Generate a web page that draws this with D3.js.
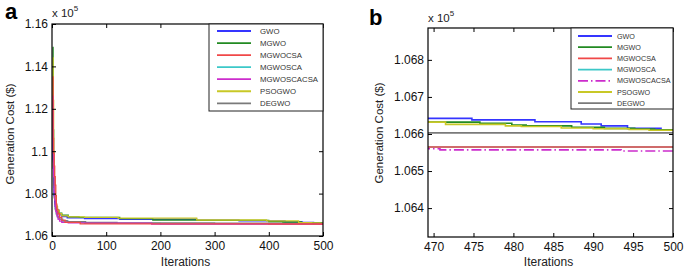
<!DOCTYPE html>
<html>
<head>
<meta charset="utf-8">
<script src="https://cdn.jsdelivr.net/npm/d3@7"></script>
<style>
  body { margin: 0; background: #fff; }
  svg { display: block; font-family: "Liberation Sans", Arial, sans-serif; }
</style>
</head>
<body>
<svg id="chart" width="685" height="270"></svg>
<script>
// Algorithm names (legend order) and colours
const names = ["GWO", "MGWO", "MGWOCSA", "MGWOSCA", "MGWOSCACSA", "PSOGWO", "DEGWO"];
const colors = ["#3535ff", "#228a22", "#f04848", "#3cc8c8", "#cc2ccc", "#c8c826", "#7a7a7a"];

// Convergence curves: [iteration, generation cost x 10^5]
const gwo = [[1,1.1180],[2,1.0960],[3,1.0850],[4,1.0790],[5,1.0760],[6,1.0740],[8,1.0722],[10,1.0710],[13,1.0700],[18,1.0692],[28,1.0686],[60,1.0682],[125,1.0679],[267,1.06750],[345,1.06710],[430,1.06670],[462,1.06642],[474.8,1.06638],[482.7,1.06633],[488.5,1.06627],[491,1.06622],[494.3,1.06615],[498.5,1.06611],[500,1.06611]];
const mgwo = [[1,1.1490],[2,1.1100],[3,1.0930],[4,1.0840],[5,1.0790],[6,1.0765],[8,1.0740],[10,1.0722],[13,1.0708],[18,1.0698],[30,1.0690],[50,1.0688],[125,1.0682],[186,1.06755],[267,1.06740],[400,1.06675],[426,1.06660],[460,1.06632],[475.8,1.06629],[479.8,1.06624],[481.6,1.06622],[487.3,1.06618],[491.4,1.06615],[495.2,1.06613],[497.7,1.06611],[500,1.06611]];
const mgwocsa = [[1,1.1350],[2,1.1060],[3,1.0990],[4,1.0930],[5,1.0880],[6,1.0840],[7,1.0790],[8,1.0750],[9,1.0725],[11,1.0705],[14,1.0688],[18,1.0675],[24,1.0664],[52,1.06575],[184,1.06570],[400,1.06565],[500,1.06565]];
const mgwosca = [[1,1.1230],[2,1.0950],[3,1.0850],[4,1.0790],[5,1.0755],[6,1.0730],[8,1.0705],[10,1.0690],[13,1.0680],[20,1.0670],[30,1.0664],[60,1.0660],[200,1.06575],[400,1.06565],[500,1.06565]];
const mgwoscacsa = [[1,1.1260],[2,1.0990],[3,1.0880],[4,1.0810],[5,1.0770],[6,1.0740],[7,1.0715],[9,1.0695],[11,1.0680],[14,1.0670],[18,1.0664],[30,1.0662],[60,1.0661],[184,1.06560],[470.8,1.06557],[493.5,1.06554],[500,1.06554]];
const psogwo = [[1,1.1440],[2,1.1240],[3,1.1000],[4,1.0880],[5,1.0810],[6,1.0770],[8,1.0740],[10,1.0720],[13,1.0705],[18,1.0695],[30,1.0690],[60,1.0688],[122,1.0684],[267,1.06755],[396,1.06710],[455,1.06632],[471.5,1.06626],[479,1.06622],[481,1.06620],[486,1.06616],[490,1.06614],[494.5,1.06612],[497,1.06610],[500,1.06609]];
const degwo = [[1,1.1190],[2,1.0920],[3,1.0830],[4,1.0780],[5,1.0750],[6,1.0725],[8,1.0705],[10,1.0690],[13,1.0680],[18,1.0672],[28,1.0668],[62,1.06646],[120,1.06620],[300,1.06610],[450,1.06603],[500,1.06603]];
const curves = [gwo, mgwo, mgwocsa, mgwosca, mgwoscacsa, psogwo, degwo];

// Tick values
const xTicksA = [0, 100, 200, 300, 400, 500];
const yTicksA = [1.06, 1.08, 1.1, 1.12, 1.14, 1.16];
const xTicksB = [470, 475, 480, 485, 490, 495, 500];
const yTicksB = [1.064, 1.065, 1.066, 1.067, 1.068];

// drawing order (later on top)
const drawOrder = [3, 6, 0, 1, 5, 4, 2];

const svg = d3.select("#chart");
const fmt = d3.format("~g");

function panel(p) {
  const g = svg.append("g");
  const x = d3.scaleLinear().domain(p.xDomain).range([p.left, p.right]);
  const y = d3.scaleLinear().domain(p.yDomain).range([p.bottom, p.top]);

  g.append("clipPath").attr("id", "clip-" + p.id)
    .append("rect")
    .attr("x", p.left).attr("y", p.top)
    .attr("width", p.right - p.left).attr("height", p.bottom - p.top);

  const line = d3.line()
    .curve(d3.curveStepAfter)
    .x(d => x(d[0]))
    .y(d => y(d[1]));

  const lines = g.append("g").attr("clip-path", `url(#clip-${p.id})`);
  drawOrder.forEach(i => {
    lines.append("path")
      .datum(curves[i])
      .attr("fill", "none")
      .attr("stroke", colors[i])
      .attr("stroke-width", p.lineWidth)
      .attr("stroke-dasharray", i === 4 && p.dash ? p.dash : null)
      .attr("d", line);
  });

  // axes, matlab style: ticks pointing inwards on all four sides
  const axisStyle = sel => {
    sel.select(".domain").remove();
    sel.selectAll("line").attr("stroke", "#000");
    sel.selectAll("text").attr("fill", "#111").style("font-size", "12px")
      .style("font-family", '"Liberation Sans", Arial, sans-serif');
  };
  g.append("g").attr("transform", `translate(0,${p.bottom})`)
    .call(d3.axisBottom(x).tickValues(p.xTicks).tickFormat(fmt).tickSizeInner(-4).tickSizeOuter(0).tickPadding(5))
    .call(axisStyle);
  g.append("g").attr("transform", `translate(0,${p.top})`)
    .call(d3.axisTop(x).tickValues(p.xTicks).tickFormat("").tickSizeInner(-4).tickSizeOuter(0))
    .call(axisStyle);
  g.append("g").attr("transform", `translate(${p.left},0)`)
    .call(d3.axisLeft(y).tickValues(p.yTicks).tickFormat(fmt).tickSizeInner(-4).tickSizeOuter(0).tickPadding(4))
    .call(axisStyle);
  g.append("g").attr("transform", `translate(${p.right},0)`)
    .call(d3.axisRight(y).tickValues(p.yTicks).tickFormat("").tickSizeInner(-4).tickSizeOuter(0))
    .call(axisStyle);

  g.append("rect")
    .attr("x", p.left).attr("y", p.top)
    .attr("width", p.right - p.left).attr("height", p.bottom - p.top)
    .attr("fill", "none").attr("stroke", "#000").attr("stroke-width", 1.2);

  // legend
  const L = p.legend;
  const lg = g.append("g");
  lg.append("rect")
    .attr("x", L.x0).attr("y", L.y0)
    .attr("width", L.x1 - L.x0).attr("height", L.y1 - L.y0)
    .attr("fill", "#fff").attr("stroke", "#222").attr("stroke-width", 1);
  names.forEach((n, i) => {
    const yy = L.row0 + i * L.step;
    lg.append("line")
      .attr("x1", L.lx0).attr("x2", L.lx1).attr("y1", yy).attr("y2", yy)
      .attr("stroke", colors[i]).attr("stroke-width", 1.8)
      .attr("stroke-dasharray", i === 4 && p.dash ? p.dash : null);
    lg.append("text")
      .attr("x", L.tx).attr("y", yy + L.font * 0.36)
      .style("font-size", L.font + "px")
      .attr("fill", "#333")
      .text(n);
  });

  // exponent label
  const ex = g.append("text")
    .attr("x", p.left).attr("y", p.expY)
    .style("font-size", "11.5px").attr("fill", "#222");
  ex.append("tspan").text("x 10");
  ex.append("tspan").attr("dy", -6).style("font-size", "8px").text("5");

  // axis titles
  g.append("text")
    .attr("x", (p.left + p.right) / 2 - 2).attr("y", 266)
    .attr("text-anchor", "middle")
    .style("font-size", "12px").attr("fill", "#222")
    .text("Iterations");
  g.append("text")
    .attr("transform", `translate(${p.yLabelX},${p.yLabelY}) rotate(-90)`)
    .attr("text-anchor", "middle")
    .style("font-size", "11.5px").attr("fill", "#222")
    .text("Generation Cost ($)");

  // panel letter
  g.append("text")
    .attr("x", p.letterX).attr("y", p.letterY)
    .style("font-size", "22px").style("font-weight", "bold")
    .attr("fill", "#000")
    .text(p.id);
}

panel({
  id: "a", left: 52, right: 323, top: 24, bottom: 236,
  xDomain: [0, 500], yDomain: [1.06, 1.16],
  xTicks: xTicksA, yTicks: yTicksA, dash: null, lineWidth: 1.3,
  expY: 17, yLabelX: 14, yLabelY: 134, letterX: 5, letterY: 19,
  legend: { x0: 209, y0: 24, x1: 323, y1: 111, row0: 31, step: 12.05, lx0: 217, lx1: 251, tx: 260, font: 7.8 }
});

panel({
  id: "b", left: 428, right: 673, top: 28, bottom: 237,
  xDomain: [469.3, 500], yDomain: [1.06322, 1.06886],
  xTicks: xTicksB, yTicks: yTicksB, dash: "10,3,1.5,3", lineWidth: 1.6,
  expY: 22, yLabelX: 383, yLabelY: 133, letterX: 369, letterY: 25,
  legend: { x0: 571, y0: 28, x1: 673, y1: 109, row0: 36, step: 11.2, lx0: 578, lx1: 612, tx: 617, font: 7.2 }
});
</script>
</body>
</html>
